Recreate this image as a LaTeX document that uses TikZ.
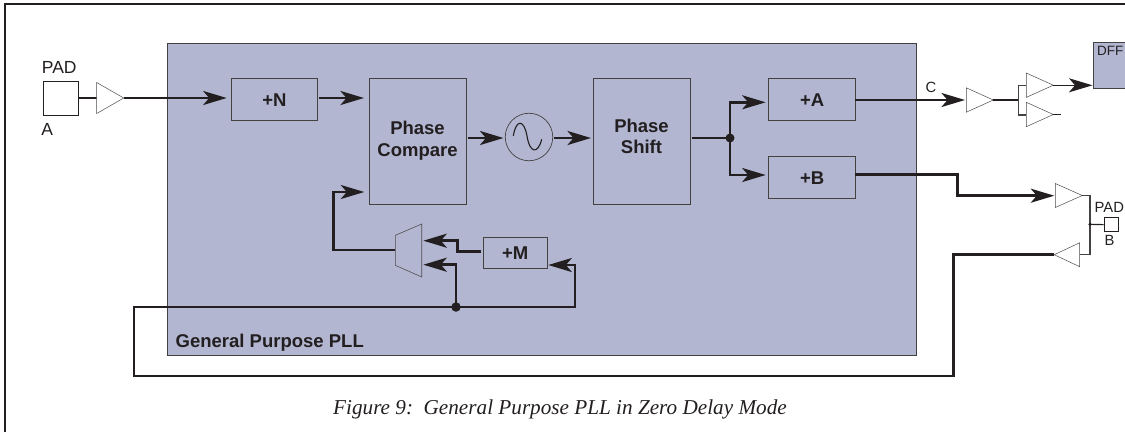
\documentclass[tikz,border=0pt]{standalone}
\usepackage{fontspec}
\setmainfont{Liberation Sans}
\newfontfamily\capfont{Liberation Serif}
\usetikzlibrary{arrows.meta}
\definecolor{pllblue}{HTML}{B2B6D1}
\definecolor{ink}{HTML}{231F20}
\tikzset{
  wire/.style={draw=ink,line width=2.7pt},
  thin wire/.style={draw=ink,line width=1.2pt},
  arrowed/.style={-{Stealth[length=23.5pt,width=14pt,inset=6pt]}},
  block/.style={draw=ink!85,line width=0.9pt,fill=pllblue,inner sep=0pt},
  bufshape/.style={draw=ink!80,line width=0.5pt,fill=white},
  blocklabel/.style={font=\bfseries\fontsize{18.5}{22.5}\selectfont,text=ink,inner sep=0pt},
  plain/.style={font=\fontsize{17.5}{20}\selectfont,text=ink,inner sep=0pt},
  small plain/.style={font=\fontsize{14.8}{17}\selectfont,text=ink,inner sep=0pt},
  dotmark/.style={circle,fill=ink,inner sep=0pt,minimum size=#1}
}
\newcommand{\bufR}[3]{\draw[bufshape] (#1,#2-#3) -- (#1+27,#2) -- (#1,#2+#3) -- cycle;}
\newcommand{\bufL}[3]{\draw[bufshape] (#1,#2-#3) -- (#1-25.5,#2) -- (#1,#2+#3) -- cycle;}
\begin{document}
\begin{tikzpicture}[x=1pt,y=-1pt]
\useasboundingbox (0,0) rectangle (1125,432);
% frame
\draw[line width=2.6pt,ink] (5,432) -- (5,4) -- (1125,4);
% PLL
\node[block,anchor=north west,minimum width=749.3pt,minimum height=312pt] (pll) at (167,43.3) {};
\node[anchor=west,font=\bfseries\fontsize{18.5}{22}\selectfont,text=ink,inner sep=0pt] (plllabel) at (175.5,343) {General Purpose PLL};
% blocks
\node[block,anchor=north west,minimum width=86.6pt,minimum height=42pt,blocklabel] (n) at (230.7,78.3) {+N};
\node[block,anchor=north west,minimum width=96.7pt,minimum height=125.4pt] (pc) at (369.3,78.3) {};
\node[blocklabel,align=center] (pct) at (417.5,140.5) {Phase\\Compare};
\node[block,anchor=north west,minimum width=97pt,minimum height=125.4pt] (ps) at (593.3,78.3) {};
\node[blocklabel,align=center] (pst) at (641.5,136.5) {Phase\\[-1pt]Shift};
\node[block,anchor=north west,minimum width=86.7pt,minimum height=42pt,blocklabel] (a) at (768.3,78.3) {+A};
\node[block,anchor=north west,minimum width=86.7pt,minimum height=42pt,blocklabel] (b) at (768.3,156.3) {+B};
\node[block,anchor=north west,minimum width=64pt,minimum height=30.7pt,blocklabel] (m) at (482.7,237.3) {+M};
\node[circle,draw=ink!85,line width=0.7pt,fill=pllblue,minimum size=47.5pt,inner sep=0pt] (vco) at (529,137) {};
\draw[ink,line width=1.1pt] (513.3,136) .. controls (516,119) and (524,119) .. (527,136) .. controls (530,154) and (538,154) .. (541.7,139.3);
% mux
\draw[draw=ink!80,line width=0.6pt] (395.3,235.3) -- (421.7,224) -- (421.7,277) -- (395.3,265.3) -- cycle;
% pads
\node[draw=ink,line width=0.7pt,fill=white,anchor=north west,minimum width=34.4pt,minimum height=34pt,inner sep=0pt] (pada) at (43.3,81.3) {};
\node[plain,anchor=west] (padat) at (41.7,67.7) {PAD};
\node[plain,anchor=west] (at) at (41.3,129.3) {A};
\node[draw=ink,line width=0.7pt,fill=white,anchor=north west,minimum width=14pt,minimum height=14pt,inner sep=0pt] (padb) at (1103.7,217.3) {};
\node[small plain,anchor=west] (padbt) at (1094.5,207.3) {PAD};
\node[small plain,anchor=center] (bt) at (1109.5,240) {B};
\node[small plain] (ct) at (931,87.5) {C};
% DFF
\node[block,anchor=north west,minimum width=40pt,minimum height=46.3pt] (dff) at (1093.3,42) {};
\node[anchor=west,font=\fontsize{13.5}{15}\selectfont,text=ink,inner sep=0pt] (dfft) at (1097,50.5) {DFF};
% wires
\coordinate (bufa) at (96.7,98);
\coordinate (bufat) at (124,98);
\draw[wire] (pada.east|-bufa) -- (bufa);
\bufR{96.7}{98}{15.5}
\draw[wire,arrowed] (bufat) -- (226.7,98);
\draw[wire,arrowed] (319,98) -- (364,98);
\draw[wire,arrowed] (467.7,138) -- (503.5,138);
\draw[wire,arrowed] (554,138) -- (591,138);
\coordinate (j) at (730,138);
\draw[wire] (691.7,138) -- (j);
\draw[wire,arrowed] (j) |- (765.7,102.3);
\draw[wire,arrowed] (j) |- (765.7,175);
\node[dotmark=9pt] (jd) at (j) {};
\draw[wire,arrowed] (855,100) -- (965,100);
\draw[wire,arrowed] (855,174.3) -- (957.3,174.3) -- (957.3,195.7) -- (1054.3,195.7);
\bufR{966.3}{100}{12.2}
\bufR{1026.3}{85.2}{12.2}
\bufR{1026.3}{114.5}{12.2}
\draw[thin wire] (993,100) -- (1018.7,100);
\draw[line width=1.4pt,ink!85] (1026.3,85.7) -- (1018.7,85.7) -- (1018.7,115) -- (1026.3,115);
\draw[thin wire,arrowed] (1053.3,85.3) -- (1092.5,85.3);
\draw[thin wire] (1053.3,114.7) -- (1060.7,114.7);
\bufR{1055.3}{195.5}{12}
\bufL{1079.7}{254.7}{12}
\draw[line width=1.4pt,ink!85] (1082.3,195.7) -- (1090,195.7) -- (1090,254.7) -- (1079.7,254.7);
\draw[thin wire] (1090,224.3) -- (padb.west);
\node[dotmark=3.5pt] (jb) at (1090,224.3) {};
\coordinate (ret) at (1054.3,254.7);
\coordinate (k) at (456,307);
\draw[wire] (ret) -- (953.3,254.7) -- (953.3,376) -- (134,376) -- (134,307) -- (k);
\draw[wire,arrowed] (k) -- (575,307) -- (575,265) -- (548.3,265);
\draw[wire,arrowed] (k) -- (456,264.7) -- (423.3,264.7);
\node[dotmark=9.5pt] (kd) at (k) {};
\draw[wire,arrowed] (481,251.7) -- (457.7,251.7) -- (457.7,240.7) -- (423.3,240.7);
\draw[wire,arrowed] (395.3,250) -- (333.7,250) -- (333.7,192) -- (364.3,192);
% caption
\node[font=\capfont\itshape\fontsize{21.2}{24}\selectfont,text=ink,inner sep=0pt] (cap) at (560,409) {Figure 9:\ \ General Purpose PLL in Zero Delay Mode};
\end{tikzpicture}
\end{document}
